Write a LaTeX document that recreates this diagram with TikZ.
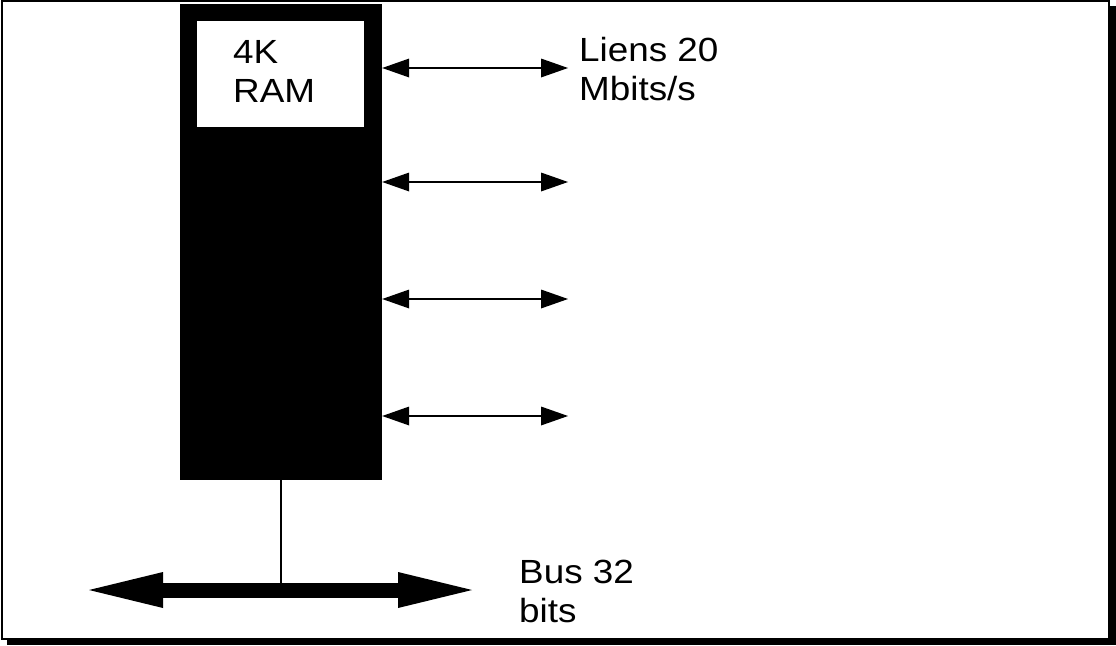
\documentclass[tikz,border=0pt]{standalone}
\usepackage{fontspec}
\setmainfont{Liberation Sans}
\newfontfamily\labelfont[FakeStretch=1.1]{Liberation Sans}
\usetikzlibrary{arrows.meta}
\tikzset{
  lbl/.style={anchor=base west, inner sep=0pt, align=left, font=\labelfont\fontsize{33.5}{38.5}\selectfont},
  link/.style={line width=2.5pt, {Triangle[length=27pt,width=19pt,line width=0pt]}-{Triangle[length=27pt,width=19pt,line width=0pt]}},
  bus/.style={line width=15pt, {Triangle[length=74pt,width=36pt,line width=0pt]}-{Triangle[length=74pt,width=36pt,line width=0pt]}},
}
\begin{document}
\begin{tikzpicture}[x=1pt,y=-1pt]
\useasboundingbox (0,0) rectangle (1116,645);
% frame with shadow
\fill[black] (1109,6) rectangle (1116,645);
\fill[black] (7,639) rectangle (1116,645);
\draw[line width=2pt] (2,1) rectangle (1109,639);
% processor block
\node[fill=black, draw=none, minimum width=202pt, minimum height=476pt, inner sep=0pt] (cpu) at (281,242) {};
\node[fill=white, draw=none, minimum width=167pt, minimum height=106pt, inner sep=0pt] (ram) at (280.5,74) {};
\node[lbl] (ramtxt) at (233,102) {4K\\RAM};
% links
\coordinate (l1) at (568,68);
\coordinate (l2) at (568,182);
\coordinate (l3) at (568,299);
\coordinate (l4) at (568,416);
\draw[link] (cpu.east |- l1) -- (l1);
\draw[link] (cpu.east |- l2) -- (l2);
\draw[link] (cpu.east |- l3) -- (l3);
\draw[link] (cpu.east |- l4) -- (l4);
\node[lbl] (liens) at (579,100) {Liens 20\\Mbits/s};
% bus
\coordinate (busL) at (89,590);
\coordinate (busR) at (472,590);
\coordinate (busM) at (281,590);
\draw[line width=2pt] (cpu.south) -- (busM);
\draw[bus] (busL) -- (busR);
\node[lbl] (bustxt) at (519,622) {Bus 32\\bits};
\end{tikzpicture}
\end{document}
